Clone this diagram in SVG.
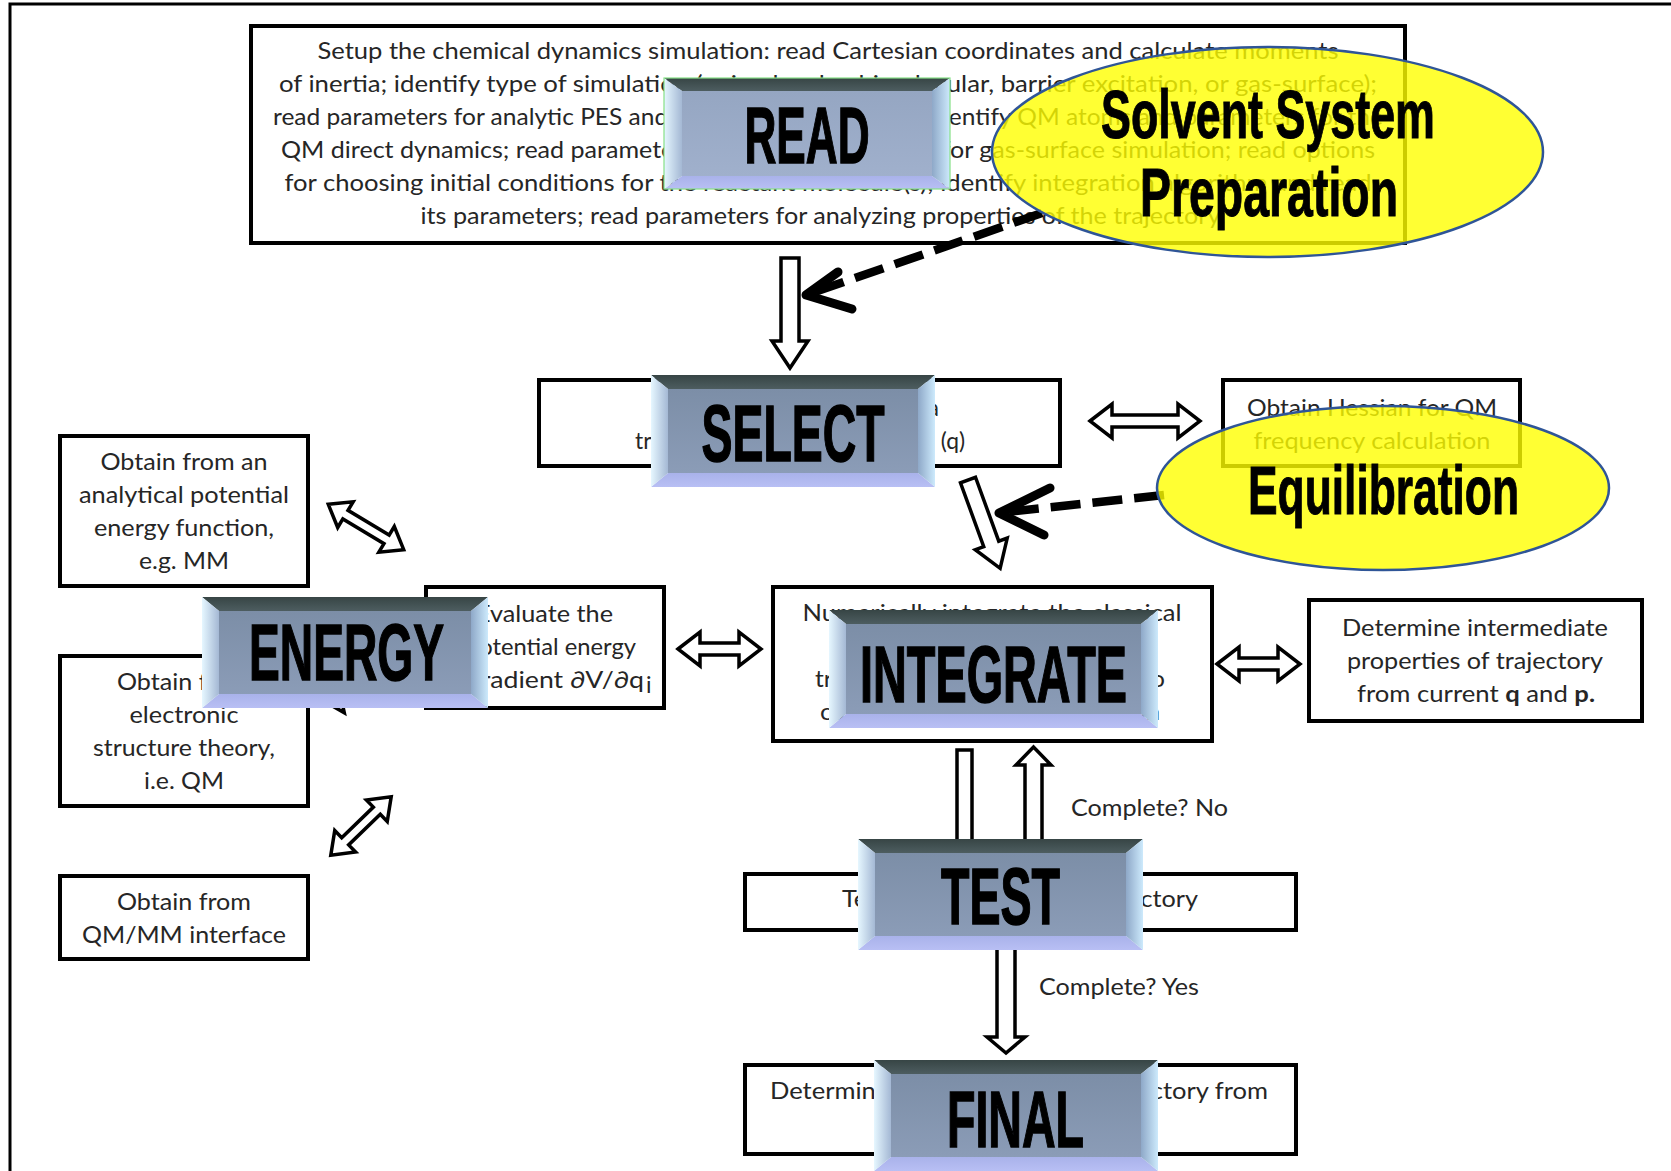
<svg xmlns="http://www.w3.org/2000/svg" width="1671" height="1171" viewBox="0 0 1671 1171">
<defs>
<linearGradient id="gFace" x1="0" y1="0" x2="0" y2="1"><stop offset="0" stop-color="#7c8ea7"/><stop offset="1" stop-color="#8b9cb7"/></linearGradient>
<linearGradient id="gFaceR" x1="0" y1="0" x2="0" y2="1"><stop offset="0" stop-color="#95a6c2"/><stop offset="1" stop-color="#a0b0cc"/></linearGradient>
<linearGradient id="gTop" x1="0" y1="0" x2="0" y2="1"><stop offset="0" stop-color="#374545"/><stop offset="1" stop-color="#4d5d60"/></linearGradient>
<linearGradient id="gLeft" x1="0" y1="0" x2="1" y2="0"><stop offset="0" stop-color="#e6f7ff"/><stop offset="1" stop-color="#a4b8d4"/></linearGradient>
<linearGradient id="gRight" x1="0" y1="0" x2="1" y2="0"><stop offset="0" stop-color="#8ea8c8"/><stop offset="1" stop-color="#cdeafc"/></linearGradient>
<linearGradient id="gBot" x1="0" y1="0" x2="0" y2="1"><stop offset="0" stop-color="#a9b2ea"/><stop offset="1" stop-color="#b8bff4"/></linearGradient>
</defs>
<style>
.box{fill:#fff;stroke:#000;stroke-width:4}
.t{font-family:Lato,"Open Sans","Liberation Sans",sans-serif;font-size:23px;fill:#262626;text-anchor:middle}
.lbl{font-family:Lato,"Open Sans","Liberation Sans",sans-serif;font-size:23px;fill:#262626}
.bt{font-family:"Liberation Sans",Arial,sans-serif;font-weight:bold;font-size:80px;fill:#000;stroke:#000;stroke-width:1.5;text-anchor:middle}
.ell{fill:#ffff00;fill-opacity:0.8;stroke:#2f5597;stroke-width:2.5}
.et{font-family:"Liberation Sans",Arial,sans-serif;font-weight:bold;font-size:68px;fill:#000;stroke:#000;stroke-width:1;text-anchor:middle}
.top{fill:url(#gTop)}
.lft{fill:url(#gLeft)}
.rgt{fill:url(#gRight)}
.bot{fill:url(#gBot)}
.face{fill:url(#gFace)}
.blk{fill:#fff;stroke:#000;stroke-width:3.5;stroke-linejoin:miter}
.dash{fill:none;stroke:#000;stroke-width:8.5;stroke-dasharray:30 12}
.chev{fill:none;stroke:#000;stroke-width:9;stroke-linecap:round;stroke-linejoin:round}
</style>
<rect width="1671" height="1171" fill="#fff"/>
<g id="frame"><path d="M10,1171 V4 H1671" fill="none" stroke="#000" stroke-width="3"/></g>

<g id="read-box">
<rect class="box" x="251" y="26" width="1154" height="217"/>
<text class="t" x="828" y="59" textLength="1021" lengthAdjust="spacingAndGlyphs">Setup the chemical dynamics simulation: read Cartesian coordinates and calculate moments</text>
<text class="t" x="828" y="92" textLength="1098" lengthAdjust="spacingAndGlyphs">of inertia; identify type of simulation (unimolecular, bimolecular, barrier excitation, or gas-surface);</text>
<text class="t" x="828" y="125" textLength="1110" lengthAdjust="spacingAndGlyphs">read parameters for analytic PES and the QM/MM interface; identify QM atoms and parameters for the</text>
<text class="t" x="828" y="158" textLength="1094" lengthAdjust="spacingAndGlyphs">QM direct dynamics; read parameters for the model surface for gas-surface simulation; read options</text>
<text class="t" x="828" y="191" textLength="1087" lengthAdjust="spacingAndGlyphs">for choosing initial conditions for the reactant molecule(s); identify integration algorithm and read</text>
<text class="t" x="823" y="224" textLength="805" lengthAdjust="spacingAndGlyphs">its parameters; read parameters for analyzing properties of the trajectory.</text>
</g>

<g id="select-box">
<rect class="box" x="539" y="380" width="521" height="86"/>
<text class="t" x="800" y="416" textLength="278" lengthAdjust="spacingAndGlyphs">Select initial conditions for a</text>
<text class="t" x="800" y="449" textLength="330" lengthAdjust="spacingAndGlyphs">trajectory: momenta p, coords (q)</text>
</g>

<g id="hessian-box">
<rect class="box" x="1223" y="380" width="297" height="86"/>
<text class="t" x="1372" y="416" textLength="250" lengthAdjust="spacingAndGlyphs">Obtain Hessian for QM</text>
<text class="t" x="1372" y="449" textLength="237" lengthAdjust="spacingAndGlyphs">frequency calculation</text>
</g>

<g id="mm-box">
<rect class="box" x="60" y="436" width="248" height="150"/>
<text class="t" x="184" y="470" textLength="167" lengthAdjust="spacingAndGlyphs">Obtain from an</text>
<text class="t" x="184" y="503" textLength="210" lengthAdjust="spacingAndGlyphs">analytical potential</text>
<text class="t" x="184" y="536" textLength="180" lengthAdjust="spacingAndGlyphs">energy function,</text>
<text class="t" x="184" y="569" textLength="90" lengthAdjust="spacingAndGlyphs">e.g. MM</text>
</g>

<g id="qm-box">
<rect class="box" x="60" y="656" width="248" height="150"/>
<text class="t" x="184" y="690" textLength="134" lengthAdjust="spacingAndGlyphs">Obtain from</text>
<text class="t" x="184" y="723" textLength="109" lengthAdjust="spacingAndGlyphs">electronic</text>
<text class="t" x="184" y="756" textLength="182" lengthAdjust="spacingAndGlyphs">structure theory,</text>
<text class="t" x="184" y="789" textLength="80" lengthAdjust="spacingAndGlyphs">i.e. QM</text>
</g>

<g id="qmmm-box">
<rect class="box" x="60" y="876" width="248" height="83"/>
<text class="t" x="184" y="910" textLength="134" lengthAdjust="spacingAndGlyphs">Obtain from</text>
<text class="t" x="184" y="943" textLength="204" lengthAdjust="spacingAndGlyphs">QM/MM interface</text>
</g>

<g id="evaluate-box">
<rect class="box" x="426" y="587" width="238" height="121"/>
<text class="lbl" x="476" y="622" textLength="137" lengthAdjust="spacingAndGlyphs">Evaluate the</text>
<text class="lbl" x="466" y="655" textLength="170" lengthAdjust="spacingAndGlyphs">potential energy</text>
<text class="lbl" x="467" y="688" textLength="177" lengthAdjust="spacingAndGlyphs">gradient ∂V/∂q</text>
<text class="lbl" x="646" y="693" font-size="14">i</text>
</g>

<g id="integrate-box">
<rect class="box" x="773" y="587" width="439" height="154"/>
<text class="t" x="992" y="621" textLength="379" lengthAdjust="spacingAndGlyphs">Numerically integrate the classical</text>
<text class="t" x="990" y="687" textLength="350" lengthAdjust="spacingAndGlyphs">trajectory forward in time and to</text>
<text class="t" x="990" y="720" textLength="340" lengthAdjust="spacingAndGlyphs">calculate q and p as a function</text>
</g>

<g id="intermediate-box">
<rect class="box" x="1309" y="600" width="333" height="121"/>
<text class="t" x="1475" y="636" textLength="266" lengthAdjust="spacingAndGlyphs">Determine intermediate</text>
<text class="t" x="1475" y="669" textLength="256" lengthAdjust="spacingAndGlyphs">properties of trajectory</text>
<text class="t" x="1476" y="702" textLength="238" lengthAdjust="spacingAndGlyphs">from current <tspan font-weight="bold">q</tspan> and <tspan font-weight="bold">p.</tspan></text>
</g>

<g id="test-box">
<rect class="box" x="745" y="874" width="551" height="56"/>
<text class="t" x="1020" y="907" textLength="356" lengthAdjust="spacingAndGlyphs">Test for completion of trajectory</text>
</g>

<g id="final-box">
<rect class="box" x="745" y="1065" width="551" height="89"/>
<text class="t" x="1019" y="1099" textLength="498" lengthAdjust="spacingAndGlyphs">Determine final properties of trajectory from</text>
</g>

<g id="connectors">
<polygon class="blk" points="781,258 799,258 799,341 808,341 790,368 772,341 781,341"/>
<polygon class="blk" transform="translate(968,480) rotate(70)" points="0,-8 68,-8 68,-17 94,0 68,17 68,8 0,8"/>
<polygon class="blk" points="1090,421 1112,404 1112,415 1178,415 1178,404 1200,421 1178,438 1178,427 1112,427 1112,438"/>
<polygon class="blk" points="678,649 700,632 700,643 739,643 739,632 761,649 739,666 739,655 700,655 700,666"/>
<polygon class="blk" points="1217,664 1239,647 1239,658 1278,658 1278,647 1300,664 1278,681 1278,670 1239,670 1239,681"/>
<polygon class="blk" transform="translate(366,527) rotate(31)" points="-44,0 -24,-15 -24,-5 24,-5 24,-15 44,0 24,15 24,5 -24,5 -24,15"/>
<polygon class="blk" transform="translate(365,690) rotate(-12)" points="-45,0 -25,-18 -25,-6 25,-6 25,-18 45,0 25,18 25,6 -25,6 -25,18"/>
<polygon class="blk" transform="translate(361,826) rotate(-44)" points="-42,0 -22,-15 -22,-5 22,-5 22,-15 42,0 22,15 22,5 -22,5 -22,15"/>
<polygon class="blk" points="957,750 972,750 972,850 980,850 964.5,868 949,850 957,850"/>
<polygon class="blk" points="1025,850 1025,765 1016,765 1033.5,747 1051,765 1042,765 1042,850"/>
<polygon class="blk" points="997,940 1015,940 1015,1037 1025,1037 1006,1053 987,1037 997,1037"/>
<text class="lbl" x="1071" y="816" textLength="157" lengthAdjust="spacingAndGlyphs">Complete? No</text>
<text class="lbl" x="1039" y="995" textLength="160" lengthAdjust="spacingAndGlyphs">Complete? Yes</text>
<line class="dash" x1="1042" y1="213" x2="812" y2="293"/>
<polyline class="chev" points="838,272 806,295 852,309"/>
<line class="dash" x1="1164" y1="495" x2="1006" y2="512"/>
<polyline class="chev" points="1050,488 999,513 1044,535"/>
</g>

<g id="read-btn">
<polygon class="top" points="664,78 950,78 932,91 682,91"/>
<polygon class="bot" points="664,189 950,189 932,176 682,176"/>
<polygon class="lft" points="664,78 682,91 682,176 664,189"/>
<polygon class="rgt" points="950,78 932,91 932,176 950,189"/>
<rect x="682" y="91" width="250" height="85" fill="url(#gFaceR)"/>
<rect x="664" y="78" width="286" height="111" fill="none" stroke="#86e086" stroke-width="1.2"/>
<text class="bt" x="807" y="163" textLength="125" lengthAdjust="spacingAndGlyphs">READ</text>
</g>

<g id="select-btn">
<polygon class="top" points="651,375 935,375 918,389 668,389"/>
<polygon class="bot" points="651,487 935,487 918,473 668,473"/>
<polygon class="lft" points="651,375 668,389 668,473 651,487"/>
<polygon class="rgt" points="935,375 918,389 918,473 935,487"/>
<rect class="face" x="668" y="389" width="250" height="84"/>
<text class="bt" x="793" y="461" textLength="183" lengthAdjust="spacingAndGlyphs">SELECT</text>
</g>

<g id="energy-btn">
<polygon class="top" points="202,597 488,597 471,611 219,611"/>
<polygon class="bot" points="202,708 488,708 471,694 219,694"/>
<polygon class="lft" points="202,597 219,611 219,694 202,708"/>
<polygon class="rgt" points="488,597 471,611 471,694 488,708"/>
<rect class="face" x="219" y="611" width="252" height="83"/>
<text class="bt" x="346.5" y="680" textLength="195" lengthAdjust="spacingAndGlyphs">ENERGY</text>
</g>

<g id="integrate-btn">
<polygon class="top" points="829,610 1158,610 1141,624 846,624"/>
<polygon class="bot" points="829,728 1158,728 1141,714 846,714"/>
<polygon class="lft" points="829,610 846,624 846,714 829,728"/>
<polygon class="rgt" points="1158,610 1141,624 1141,714 1158,728"/>
<rect class="face" x="846" y="624" width="295" height="90"/>
<text class="bt" x="993.5" y="702" textLength="267" lengthAdjust="spacingAndGlyphs">INTEGRATE</text>
</g>

<g id="test-btn">
<polygon class="top" points="858,839 1143,839 1126,853 875,853"/>
<polygon class="bot" points="858,950 1143,950 1126,936 875,936"/>
<polygon class="lft" points="858,839 875,853 875,936 858,950"/>
<polygon class="rgt" points="1143,839 1126,853 1126,936 1143,950"/>
<rect class="face" x="875" y="853" width="251" height="83"/>
<text class="bt" x="1000.5" y="924" textLength="119" lengthAdjust="spacingAndGlyphs">TEST</text>
</g>

<g id="final-btn">
<polygon class="top" points="874,1060 1158,1060 1141,1074 891,1074"/>
<polygon class="bot" points="874,1171 1158,1171 1141,1157 891,1157"/>
<polygon class="lft" points="874,1060 891,1074 891,1157 874,1171"/>
<polygon class="rgt" points="1158,1060 1141,1074 1141,1157 1158,1171"/>
<rect class="face" x="891" y="1074" width="250" height="83"/>
<text class="bt" x="1015.5" y="1147" textLength="137" lengthAdjust="spacingAndGlyphs">FINAL</text>
</g>

<g id="solvent-ellipse">
<ellipse class="ell" cx="1267.5" cy="152" rx="275.5" ry="105"/>
<text class="et" x="1268" y="138" textLength="334" lengthAdjust="spacingAndGlyphs">Solvent System</text>
<text class="et" x="1269" y="216" textLength="258" lengthAdjust="spacingAndGlyphs">Preparation</text>
</g>

<g id="equilibration-ellipse">
<ellipse class="ell" cx="1383" cy="488" rx="226" ry="82"/>
<text class="et" x="1383.5" y="514" textLength="271" lengthAdjust="spacingAndGlyphs">Equilibration</text>
</g>
</svg>
